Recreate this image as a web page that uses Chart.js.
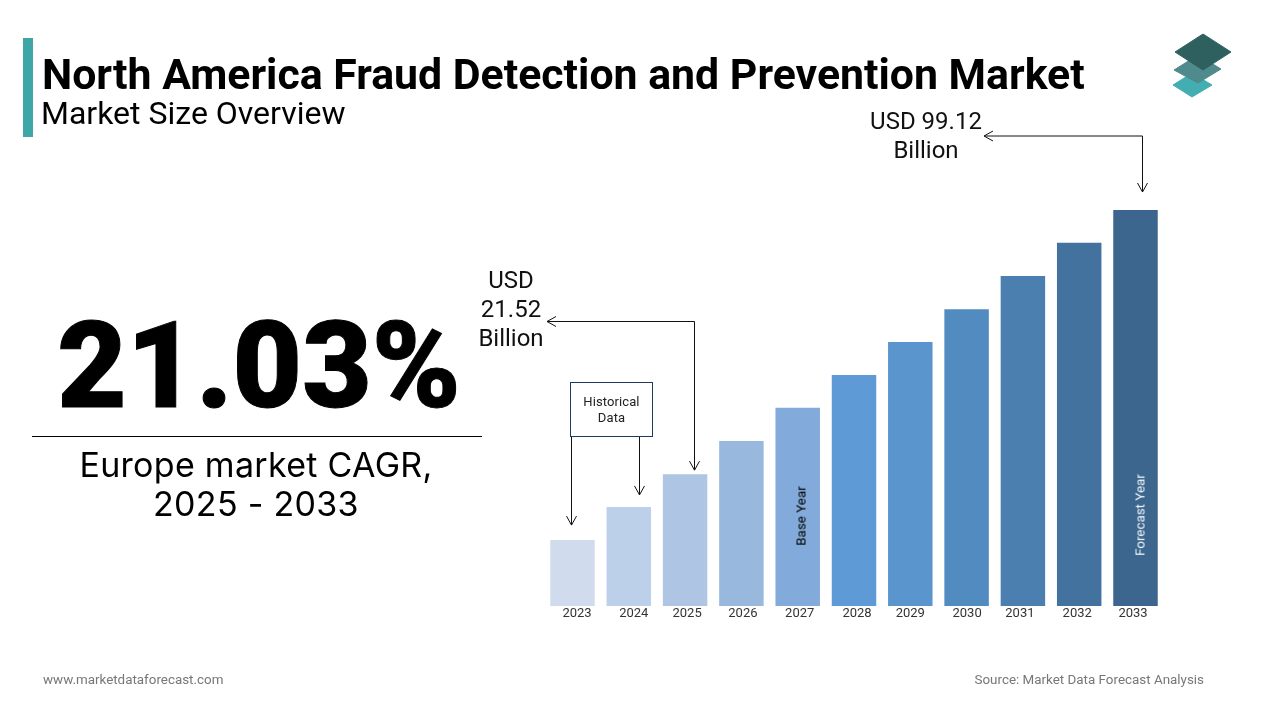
<!DOCTYPE html>
<html>
<head>
  <title>North America Fraud Detection and Prevention Market</title>
  <script src="https://cdn.jsdelivr.net/npm/chart.js"></script>
  <style>
    body { margin: 0; background: #fff; font-family: Roboto, sans-serif; color: #000; }
    #page { position: relative; width: 1280px; height: 720px; overflow: hidden; }
    #page > * { position: absolute; }
    canvas { left: 0; top: 0; }
    .accent { left: 23px; top: 38px; width: 10px; height: 99px; background: #3fa6a8; }
    h1 { left: 42px; top: 48px; margin: 0; font-size: 42.8px; font-weight: 700; line-height: 52px; white-space: nowrap; }
    h2 { left: 41px; top: 94px; margin: 0; font-size: 32px; font-weight: 400; line-height: 38px; white-space: nowrap; }
    .big { left: 34px; width: 450px; top: 291px; text-align: center; font-size: 120px; font-weight: 900; line-height: 150px; -webkit-text-stroke: 1px #000; }
    .rule { left: 32px; top: 436px; width: 450px; height: 1px; background: #000; }
    .cagr { left: 32px; width: 448px; top: 445px; text-align: center; font-family: Inter, sans-serif; font-size: 34px; line-height: 39px; letter-spacing: 0.3px; }
    .usd { text-align: center; font-size: 24px; line-height: 29px; color: #111; }
    .box { left: 570px; top: 382px; width: 81px; height: 53px; border: 1px solid #1f3a5f; text-align: center; font-size: 13px; line-height: 16px; letter-spacing: 0.1px; color: #222; }
    .box span { display: block; margin-top: 11px; }
    .vert { transform: translate(-50%, -50%) rotate(-90deg); white-space: nowrap; font-size: 13.4px; }
    .foot { top: 672px; font-size: 13.4px; line-height: 16px; color: #777; }
  </style>
</head>
<body>
  <div id="page">
    <canvas id="marketChart" width="1280" height="720"></canvas>
    <div class="accent"></div>
    <h1>North America Fraud Detection and Prevention Market</h1>
    <h2>Market Size Overview</h2>
    <div class="big">21.03%</div>
    <div class="rule"></div>
    <div class="cagr">Europe market CAGR,<br>2025 - 2033</div>
    <div class="usd" style="left:451px;width:120px;top:266px">USD<br>21.52<br>Billion</div>
    <div class="usd" style="left:856px;width:140px;top:107px">USD 99.12<br>Billion</div>
    <div class="box"><span>Historical<br>Data</span></div>
    <div class="vert" style="left:801px;top:516px;color:#000">Base Year</div>
    <div class="vert" style="left:1140px;top:515px;color:#eef3f8">Forecast Year</div>
    <svg style="left:1165px;top:28px" width="75" height="75" viewBox="1165 28 75 75">
      <polygon points="1173,85 1192,73 1212,85 1192,97" fill="#43aeb2" stroke="#43aeb2" stroke-linejoin="round"/>
      <polygon points="1174,70 1198,55 1221,69 1198,83" fill="#4f8a8c" stroke="#4f8a8c" stroke-linejoin="round"/>
      <polygon points="1175,52 1203,34 1231,52 1203,70" fill="#2f6060" stroke="#2f6060" stroke-linejoin="round"/>
    </svg>
    <div class="foot" style="left:43px">www.marketdataforecast.com</div>
    <div class="foot" style="right:76px">Source: Market Data Forecast Analysis</div>
  </div>

  <script>
    const years = ['2023', '2024', '2025', '2026', '2027', '2028', '2029', '2030', '2031', '2032', '2033'];
    const marketSize = [16.5, 24.8, 33.0, 41.3, 49.6, 57.8, 66.1, 74.3, 82.6, 90.9, 99.12];
    const barColors = ['#d0dcee', '#bdd0e9', '#aec6e3', '#98b8de', '#82aadb', '#5e9bd6', '#5a95cd', '#528bc0', '#4a7fb0', '#43729f', '#3c668e'];
    // the year labels are not quite centred under the bars in the original
    const labelNudge = [4.5, 5, 2, 1.5, 2, 3, 0, 0.5, -3, -2, -2.5];

    const arrowHead = (ctx, x, y, dx, dy) => {
      ctx.beginPath();
      ctx.moveTo(x + dx * 9 + dy * 5, y + dy * 9 + dx * 5);
      ctx.lineTo(x, y);
      ctx.lineTo(x + dx * 9 - dy * 5, y + dy * 9 - dx * 5);
      ctx.stroke();
    };

    const callouts = {
      id: 'callouts',
      beforeDraw(chart) {
        // shift tick labels by the small offsets above
        const xs = chart.scales.x;
        xs.getLabelItems().forEach((item, i) => {
          item.options.translation[0] = xs.getPixelForTick(i) + labelNudge[i];
        });
      },
      afterDraw(chart) {
        const { ctx, scales: { x, y } } = chart;
        const barX = year => x.getPixelForValue(years.indexOf(year));
        const barTop = year => y.getPixelForValue(marketSize[years.indexOf(year)]);
        ctx.save();
        ctx.strokeStyle = '#111';
        ctx.lineWidth = 1;

        // 2023 and 2024 from the Historical Data box
        [['2023', -1, 15], ['2024', 11, 12]].forEach(([year, off, gap]) => {
          const ax = Math.round(barX(year) + off) - 0.5;
          const tip = barTop(year) - gap;
          ctx.beginPath();
          ctx.moveTo(ax, 436);
          ctx.lineTo(ax, tip);
          ctx.stroke();
          arrowHead(ctx, ax, tip, 0, -1);
        });

        // value callouts for 2025 and 2033
        [['2025', 8.5, 321.5, 547], ['2033', 6, 136, 984]].forEach(([year, off, lineY, endX]) => {
          const ax = Math.round(barX(year) + off) + 0.5;
          const tip = barTop(year) - (year === '2025' ? 4 : 18);
          ctx.beginPath();
          ctx.moveTo(endX, lineY);
          ctx.lineTo(ax, lineY);
          ctx.lineTo(ax, tip);
          ctx.stroke();
          arrowHead(ctx, ax, tip, 0, -1);
          arrowHead(ctx, endX, lineY, 1, 0);
        });
        ctx.restore();
      }
    };

    new Chart(document.getElementById('marketChart').getContext('2d'), {
      type: 'bar',
      data: {
        labels: years,
        datasets: [{ data: marketSize, backgroundColor: barColors, barPercentage: 0.79, categoryPercentage: 1 }]
      },
      plugins: [callouts],
      options: {
        responsive: false,
        animation: false,
        layout: { padding: { left: 544.35, right: 116.35, top: 206.5, bottom: 94 } },
        plugins: { legend: { display: false }, tooltip: { enabled: false } },
        scales: {
          x: {
            grid: { display: false, drawTicks: false },
            border: { display: false },
            afterFit: s => { s.height = 20; },
            ticks: { color: '#333', padding: 0, maxRotation: 0, autoSkip: false, font: { family: 'Roboto', size: 13 } }
          },
          y: { display: false, min: 0, max: 100 }
        }
      }
    });
  </script>
</body>
</html>
